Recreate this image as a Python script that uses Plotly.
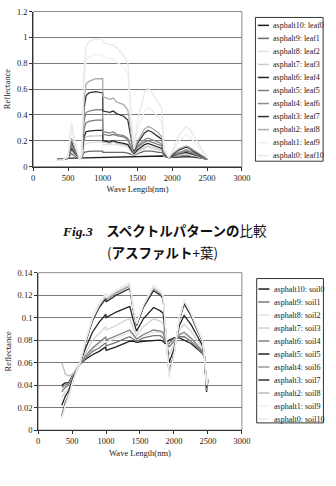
import plotly.graph_objects as go

W, H = 336, 486

# ---------------- data: asphalt + leaf ----------------
wl_leaf = [350, 420, 500, 550, 600, 670, 700, 730, 760, 800, 900, 999, 1001, 1100, 1150,
           1200, 1300, 1360, 1420, 1450, 1500, 1600, 1650, 1700, 1800, 1850, 1880, 1950,
           2000, 2100, 2200, 2250, 2300, 2400, 2450, 2500]

leaf_names = ["asphalt10: leaf0", "asphalt9: leaf1", "asphalt8: leaf2", "asphalt7: leaf3",
              "asphalt6: leaf4", "asphalt5: leaf5", "asphalt4: leaf6", "asphalt3: leaf7",
              "asphalt2: leaf8", "asphalt1: leaf9", "asphalt0: leaf10"]

leaf0 = [.060, .060, .062, .065, .066, .067, .068, .069, .070, .070, .072, .073, .073, .075, .076,
         .077, .078, .079, .079, .079, .080, .081, .081, .082, .082, .082, .080, .070, .072, .075,
         .078, .077, .074, .068, .064, .060]
leaf1 = [.059, .060, .064, .100, .080, .066, .070, .110, .115, .118, .120, .120, .110, .110, .115,
         .110, .110, .105, .090, .088, .100, .120, .120, .120, .110, .110, .080, .070, .076, .085,
         .088, .086, .082, .070, .063, .055]
leaf2 = [.058, .059, .064, .120, .090, .064, .072, .160, .180, .185, .190, .190, .170, .170, .170,
         .170, .160, .150, .100, .090, .110, .140, .150, .140, .130, .120, .083, .070, .078, .090,
         .095, .092, .085, .073, .065, .055]
leaf3 = [.057, .058, .064, .130, .095, .063, .073, .200, .230, .235, .240, .240, .190, .180, .190,
         .180, .170, .160, .110, .100, .120, .150, .160, .150, .140, .130, .085, .070, .080, .095,
         .100, .098, .090, .075, .066, .055]
leaf4 = [.056, .057, .064, .140, .100, .062, .074, .230, .270, .275, .280, .280, .200, .190, .200,
         .190, .180, .170, .120, .100, .130, .170, .180, .170, .150, .140, .088, .070, .080, .100,
         .110, .105, .095, .078, .068, .055]
leaf5 = [.055, .056, .065, .160, .110, .060, .076, .290, .340, .350, .360, .360, .250, .240, .250,
         .240, .230, .210, .130, .110, .150, .190, .200, .190, .170, .160, .090, .070, .085, .105,
         .120, .115, .100, .080, .070, .055]
leaf6 = [.055, .055, .066, .180, .120, .060, .078, .350, .420, .430, .440, .440, .270, .260, .270,
         .250, .240, .220, .140, .110, .160, .210, .220, .210, .190, .170, .095, .070, .090, .110,
         .130, .120, .110, .085, .070, .055]
leaf7 = [.055, .055, .068, .200, .130, .058, .080, .450, .550, .570, .580, .570, .430, .420, .430,
         .410, .390, .360, .180, .120, .180, .260, .280, .270, .230, .210, .100, .070, .090, .130,
         .150, .140, .120, .090, .075, .060]
leaf8 = [.050, .050, .070, .220, .140, .055, .085, .520, .640, .660, .680, .680, .540, .520, .530,
         .500, .480, .440, .200, .130, .200, .290, .310, .300, .260, .230, .110, .070, .100, .140,
         .160, .150, .130, .100, .080, .060]
leaf9 = [.050, .050, .075, .290, .170, .050, .090, .660, .820, .850, .870, .860, .850, .840, .830,
         .810, .770, .720, .260, .140, .280, .430, .460, .440, .380, .340, .130, .070, .110, .200,
         .250, .230, .200, .130, .100, .070]
leaf10 = [.050, .050, .080, .340, .200, .050, .100, .750, .930, .970, .990, .980, .960, .950, .940,
          .920, .860, .800, .300, .160, .350, .570, .610, .580, .500, .450, .150, .070, .120, .250,
          .310, .290, .250, .150, .110, .080]
leaf_series = [leaf0, leaf1, leaf2, leaf3, leaf4, leaf5, leaf6, leaf7, leaf8, leaf9, leaf10]
leaf_colors = ["#1e1e1e", "#6a6a6a", "#e2e2e2", "#cccccc", "#262626", "#7a7a7a",
               "#8c8c8c", "#333333", "#ababab", "#f0f0f0", "#e8e8e8"]

# ---------------- data: asphalt + soil ----------------
wl_soil = [350, 400, 450, 520, 620, 700, 800, 900, 999, 1001, 1150, 1300, 1350, 1400, 1450,
           1550, 1700, 1800, 1840, 1870, 1930, 2000, 2080, 2150, 2250, 2350, 2420, 2450, 2480, 2500]

soil_names = ["asphalt10: soil0", "asphalt9: soil1", "asphalt8: soil2", "asphalt7: soil3",
              "asphalt6: soil4", "asphalt5: soil5", "asphalt4: soil6", "asphalt3: soil7",
              "asphalt2: soil8", "asphalt1: soil9", "asphalt0: soil10"]

soil0 = [.040, .042, .042, .050, .059, .063, .067, .070, .074, .071, .074, .078, .079, .079, .078,
         .079, .080, .080, .079, .077, .080, .082, .082, .080, .077, .072, .068, .065, .034, .045]
soil1 = [.038, .040, .041, .050, .059, .064, .070, .073, .078, .075, .078, .082, .083, .081, .079,
         .082, .084, .084, .082, .078, .077, .081, .083, .083, .079, .073, .069, .065, .035, .045]
soil2 = [.036, .039, .040, .049, .059, .066, .072, .076, .081, .078, .082, .086, .087, .084, .081,
         .084, .087, .087, .085, .080, .075, .080, .085, .085, .081, .075, .070, .065, .035, .045]
soil3 = [.029, .034, .037, .048, .059, .069, .080, .086, .092, .089, .093, .098, .099, .091, .084,
         .092, .099, .097, .095, .084, .067, .076, .089, .094, .088, .079, .073, .065, .036, .045]
soil4 = [.034, .038, .040, .049, .059, .066, .073, .078, .083, .080, .084, .088, .089, .085, .081,
         .085, .089, .088, .087, .080, .074, .079, .085, .087, .082, .075, .070, .065, .035, .045]
soil5 = [.022, .030, .035, .047, .060, .073, .087, .096, .103, .100, .105, .109, .110, .098, .088,
         .099, .109, .106, .104, .088, .060, .072, .093, .102, .094, .083, .075, .065, .038, .045]
soil6 = [.012, .023, .031, .045, .060, .079, .098, .110, .119, .116, .122, .127, .128, .108, .094,
         .110, .126, .121, .118, .094, .049, .067, .099, .114, .103, .089, .079, .065, .040, .045]
soil7 = [.013, .024, .031, .046, .060, .078, .097, .109, .117, .114, .120, .125, .126, .107, .093,
         .109, .124, .120, .117, .093, .050, .068, .098, .112, .102, .088, .079, .065, .039, .045]
soil8 = [.060, .050, .048, .050, .060, .079, .099, .111, .120, .117, .123, .128, .129, .109, .094,
         .111, .127, .122, .119, .094, .048, .067, .099, .115, .104, .089, .080, .065, .040, .045]
soil9 = [.011, .022, .030, .045, .060, .080, .099, .112, .121, .118, .124, .129, .130, .109, .095,
         .111, .128, .123, .120, .095, .048, .066, .100, .115, .104, .090, .080, .065, .040, .045]
soil10 = [.010, .022, .030, .045, .060, .080, .100, .113, .122, .119, .125, .130, .131, .110, .095,
          .112, .129, .124, .121, .095, .047, .066, .100, .116, .105, .090, .080, .065, .040, .045]
soil_series = [soil0, soil1, soil2, soil3, soil4, soil5, soil6, soil7, soil8, soil9, soil10]
soil_colors = ["#1e1e1e", "#777777", "#e6e6e6", "#d2d2d2", "#808080", "#222222",
               "#9a9a9a", "#333333", "#bbbbbb", "#f2f2f2", "#ececec"]

x_ticks = [0, 500, 1000, 1500, 2000, 2500, 3000]

SERIF = "Liberation Serif, Times New Roman, serif"
CJK = "Noto Sans CJK JP"

fig = go.Figure()
for name, vals, col in zip(leaf_names, leaf_series, leaf_colors):
    fig.add_trace(go.Scatter(x=wl_leaf, y=vals, mode="lines", name=name,
                             line=dict(color=col, width=1.3), xaxis="x", yaxis="y",
                             showlegend=False))
for name, vals, col in zip(soil_names, soil_series, soil_colors):
    fig.add_trace(go.Scatter(x=wl_soil, y=vals, mode="lines", name=name,
                             line=dict(color=col, width=1.3), xaxis="x2", yaxis="y2",
                             showlegend=False))


def px_x(p):
    return p / W


def px_y(p):
    return 1 - p / H


axis_common = dict(showline=True, linecolor="#333333", linewidth=1, ticks="outside",
                   ticklen=3, tickcolor="#333333", zeroline=False,
                   tickfont=dict(family=SERIF, size=8.5, color="#222222"))

fig.update_layout(
    width=W, height=H, margin=dict(l=0, r=0, t=0, b=0),
    paper_bgcolor="white", plot_bgcolor="white", showlegend=False,
    xaxis=dict(domain=[px_x(32.3), px_x(248)], range=[0, 3000], tickvals=x_ticks,
               showgrid=False, anchor="y",
               title=dict(text="Wave Length(nm)", font=dict(family=SERIF, size=8.5, color="#222"),
                          standoff=4),
               **axis_common),
    yaxis=dict(domain=[px_y(165), px_y(6.7)], range=[0, 1.2], dtick=0.2, anchor="x",
               showgrid=True, gridcolor="#7a7a7a", gridwidth=1,
               title=dict(text="Reflectance", font=dict(family=SERIF, size=8.5, color="#222"),
                          standoff=4),
               **axis_common),
    xaxis2=dict(domain=[px_x(37.3), px_x(248)], range=[0, 3000], tickvals=x_ticks,
                showgrid=False, anchor="y2",
                title=dict(text="Wave Length(nm)", font=dict(family=SERIF, size=8.5, color="#222"),
                           standoff=4),
                **axis_common),
    yaxis2=dict(domain=[px_y(434), px_y(273.3)], range=[0, 0.14], dtick=0.02, anchor="x2",
                showgrid=True, gridcolor="#7a7a7a", gridwidth=1,
                title=dict(text="Reflectance", font=dict(family=SERIF, size=8.5, color="#222"),
                           standoff=4),
                **axis_common),
)

shapes = []
annotations = []
# plot frames (grey top/right border)
for xr, yr in (("x domain", "y domain"), ("x2 domain", "y2 domain")):
    shapes.append(dict(type="rect", xref=xr, yref=yr, x0=0, x1=1, y0=0, y1=1,
                       line=dict(color="#8a8a8a", width=1), layer="below"))


def add_legend(names, colors, box_l, box_r, box_t, box_b, row0, dy, lx0, lx1, tx):
    shapes.append(dict(type="rect", xref="paper", yref="paper",
                       x0=px_x(box_l), x1=px_x(box_r), y0=px_y(box_b), y1=px_y(box_t),
                       line=dict(color="#333333", width=1), fillcolor="white"))
    for i, (n, c) in enumerate(zip(names, colors)):
        yy = row0 + i * dy
        shapes.append(dict(type="line", xref="paper", yref="paper",
                           x0=px_x(lx0), x1=px_x(lx1), y0=px_y(yy), y1=px_y(yy),
                           line=dict(color=c, width=1.5)))
        annotations.append(dict(text=n, xref="paper", yref="paper", x=px_x(tx), y=px_y(yy),
                                xanchor="left", yanchor="middle", showarrow=False,
                                font=dict(family=SERIF, size=8, color="#222222")))


add_legend(leaf_names, leaf_colors, 262, 332, 12.7, 159.5, 20.8, 13.3, 264.5, 276, 278)
add_legend(soil_names, soil_colors, 263.3, 332.3, 279.3, 426.7, 290, 13.27, 265, 276.5, 279)

annotations.append(dict(
    text='<span style="font-family:Liberation Serif"><b><i>Fig.3</i></b></span>'
         '\u2003<b>スペクトルパターンの</b>比較',
    xref="paper", yref="paper", x=px_x(168), y=px_y(229.3), xanchor="center", yanchor="middle",
    showarrow=False, font=dict(family=CJK, size=13.5, color="#111111")))
annotations.append(dict(
    text='(<b>アスファルト</b>+葉)',
    xref="paper", yref="paper", x=px_x(166), y=px_y(251.7), xanchor="center", yanchor="middle",
    showarrow=False, font=dict(family=CJK, size=13.5, color="#111111")))

fig.update_layout(shapes=shapes, annotations=annotations)
fig.write_html("out.html")
